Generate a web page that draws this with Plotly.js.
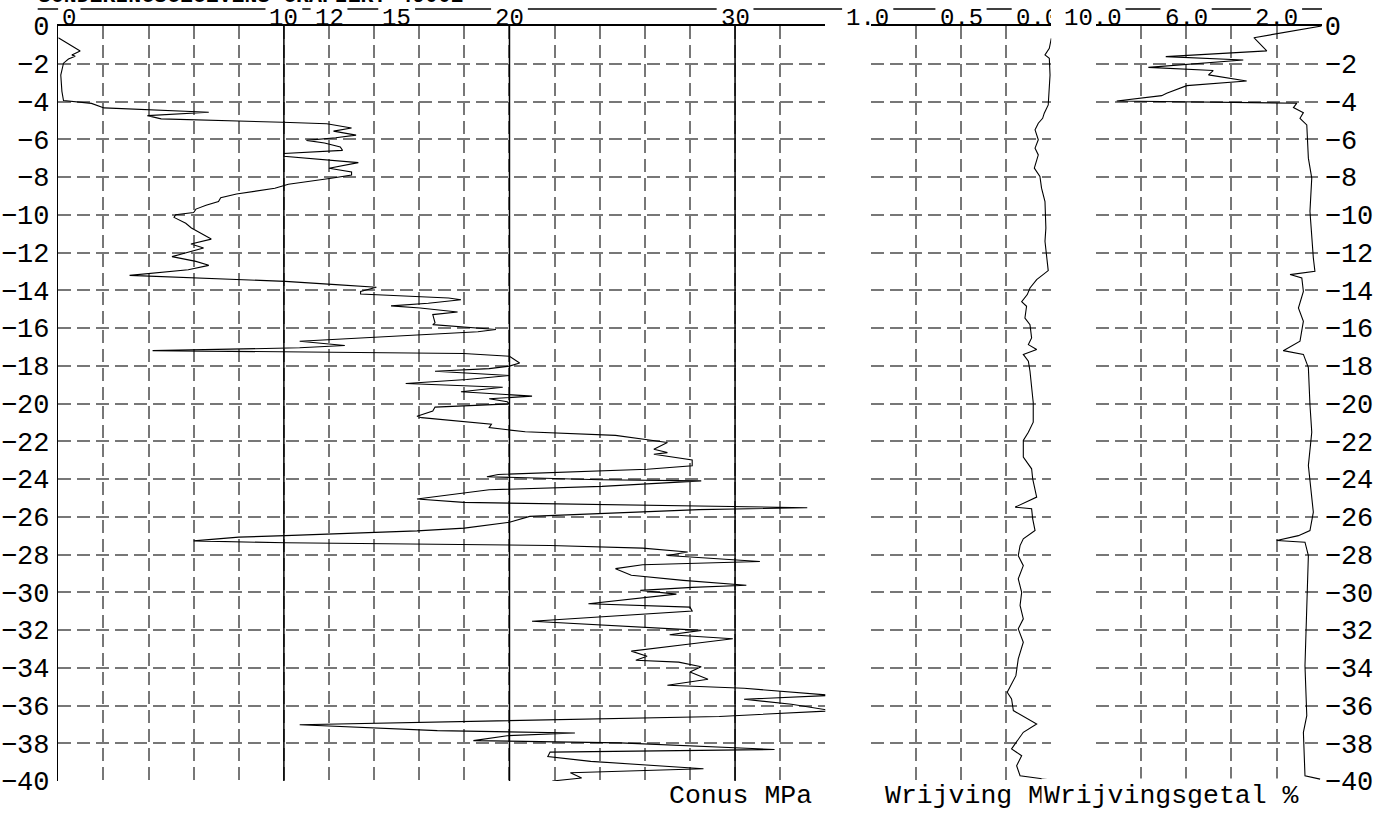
<!DOCTYPE html>
<html><head><meta charset="utf-8">
<script src="https://cdn.plot.ly/plotly-3.0.1.min.js"></script>
<style>html,body{margin:0;padding:0;background:#fff}#chart{width:1385px;height:813px}
.gridlayer path{shape-rendering:crispEdges}</style>
</head><body><div id="chart"></div>
<script>
// ---- data (level in m, negative downwards) ----
const conusLevel = [-0.62,-1.32,-1.53,-1.6,-1.75,-1.97,-2.6,-3.46,-3.95,-4.1,-4.34,-4.57,-4.75,-4.92,-5.1,-5.18,-5.4,-5.57,-5.78,-5.92,-6.06,-6.2,-6.41,-6.59,-6.75,-6.9,-7.24,-7.54,-7.73,-7.9,-8.07,-8.38,-8.6,-8.9,-9.1,-9.3,-9.5,-9.7,-9.88,-10.0,-10.14,-10.45,-10.7,-11.29,-11.55,-11.76,-12.22,-12.47,-12.68,-12.91,-13.21,-13.35,-13.53,-13.7,-13.84,-14.06,-14.2,-14.41,-14.5,-14.69,-14.83,-14.94,-15.15,-15.29,-15.73,-15.82,-15.96,-16.08,-16.2,-16.44,-16.7,-16.93,-17.05,-17.2,-17.35,-17.5,-17.85,-18.02,-18.15,-18.29,-18.52,-18.73,-18.94,-19.14,-19.38,-19.61,-19.75,-19.91,-20.02,-20.19,-20.4,-20.67,-20.75,-21.1,-21.28,-21.5,-21.69,-21.93,-22.07,-22.42,-22.6,-22.69,-22.99,-23.3,-23.48,-23.76,-23.88,-24.04,-24.1,-24.39,-24.57,-25.06,-25.24,-25.52,-25.62,-25.98,-26.29,-26.6,-26.75,-27.0,-27.08,-27.28,-27.38,-27.52,-27.66,-27.87,-28.05,-28.37,-28.54,-28.75,-29.1,-29.37,-29.63,-29.74,-29.9,-30.1,-30.61,-30.79,-31.0,-31.54,-31.77,-32.02,-32.25,-32.46,-32.74,-33.12,-33.39,-33.6,-33.7,-33.95,-34.23,-34.61,-34.93,-35.09,-35.46,-35.67,-35.93,-36.28,-36.58,-36.8,-37.02,-37.33,-37.46,-37.6,-37.86,-37.98,-38.33,-38.47,-38.7,-38.96,-39.35,-39.56,-39.84,-40.0];
const conusMPa = [0,0.97,0.6,0.75,0.45,0.23,0.11,0.16,0.23,1.47,2.03,6.67,3.95,4.56,9.94,11.9,13.0,12.2,13.2,12.3,11.0,11.8,12.5,12.6,10.0,10.0,13.3,12.0,13.0,13.0,12.1,10.2,9.6,7.9,7.2,7.1,6.55,6.1,6.0,5.2,5.13,5.65,5.9,6.78,5.88,6.44,5.04,6.1,6.67,5.76,3.16,6.0,10.06,12.3,14.1,13.4,13.4,17.3,17.85,16.4,14.75,16.04,17.7,16.6,16.7,16.6,17.96,19.4,18.6,15.0,10.7,12.7,10.7,4.18,17.96,20.0,20.45,20.0,19.1,16.7,20.0,18.1,15.4,19.7,17.85,21.0,19.1,19.9,20.0,16.7,16.6,15.9,16.1,19.2,19.1,20.7,24.7,26.2,27.0,26.4,27.0,26.4,28.1,28.1,26.1,19.5,19.0,24.0,28.5,24.1,19.1,15.9,17.97,33.2,28.4,20.9,20.0,18.0,15.9,10.06,8.0,6.0,10.06,21.8,25.9,27.9,27.0,31.1,25.9,24.7,25.4,27.7,30.5,28.1,25.8,27.4,23.5,28.0,28.1,21.0,24.5,28.5,27.1,29.9,28.0,25.4,26.1,25.6,27.5,28.5,28.0,28.8,27.0,30.4,34.3,30.4,32.5,34.3,29.3,20.0,10.7,16.8,22.9,19.9,18.4,24.9,31.75,21.8,21.7,23.6,28.6,22.7,23.2,21.9];

const wrijvingLevel = [-0.65,-1.18,-1.53,-1.71,-2.6,-3.65,-4.18,-4.62,-4.89,-5.15,-5.5,-6.03,-6.47,-6.83,-7.53,-7.97,-8.59,-9.3,-10.0,-10.7,-11.41,-12.29,-12.96,-13.44,-13.88,-14.23,-14.6,-14.85,-15.47,-15.82,-16.53,-16.88,-17.14,-17.4,-17.76,-18.29,-18.99,-19.96,-20.99,-21.52,-21.96,-22.84,-23.46,-23.99,-24.96,-25.49,-25.58,-26.11,-26.73,-27.17,-27.53,-28.06,-28.59,-29.29,-30.0,-30.7,-31.41,-31.94,-32.65,-33.53,-34.42,-35.3,-35.65,-36.27,-36.98,-37.42,-38.3,-38.66,-39.19,-39.72,-39.95];
const wrijvingMPa = [0,0.011,0.035,0.011,0.007,0.011,0.017,0.039,0.048,0.072,0.09,0.072,0.09,0.072,0.094,0.063,0.054,0.035,0.031,0.03,0.035,0.026,0.017,0.081,0.118,0.133,0.164,0.137,0.146,0.118,0.109,0.127,0.081,0.155,0.127,0.118,0.109,0.1,0.1,0.127,0.155,0.155,0.109,0.103,0.081,0.2,0.109,0.103,0.09,0.155,0.173,0.183,0.155,0.183,0.164,0.173,0.155,0.183,0.155,0.183,0.196,0.244,0.22,0.21,0.081,0.155,0.22,0.164,0.192,0.173,0.0];

const getalLevel = [0,-0.62,-1.32,-1.62,-1.8,-2.19,-2.36,-2.59,-2.91,-3.16,-3.56,-3.69,-3.97,-4.09,-4.32,-4.59,-4.89,-5.24,-7.0,-8.06,-9.82,-11.23,-12.29,-13.0,-13.17,-13.35,-14.06,-14.94,-15.64,-16.7,-17.2,-17.4,-18.1,-20.05,-21.52,-23.29,-25.76,-26.73,-27.0,-27.26,-27.35,-28.06,-30.35,-33.89,-36.54,-37.42,-39.72,-39.9];
const getalPct = [0,3.0,2.43,6.9,3.47,7.67,4.8,5.01,3.32,5.97,6.86,7.08,9.07,1.1,1.25,0.81,0.96,0.66,0.59,0.44,0.52,0.44,0.37,0.3,1.4,0.88,0.81,1.03,0.81,0.96,1.7,0.81,0.59,0.52,0.44,0.59,0.37,0.52,1.03,1.99,0.74,0.59,0.66,0.74,0.66,0.81,0.74,0.07];

const conusTickVals = [0,10,12,15,20,30];
const conusTickText = ['0','10','12','15','20','30'];
const conusSolid = [10,20,30];
const wrijvingTickVals = [1.0,0.5,0.0];
const wrijvingTickText = ['1.0','0.5','0.0'];
const getalTickVals = [10,6,2];
const getalTickText = ['10.0','6.0','2.0'];
const titleText = 'SONDERINGSGEGEVENS GRAFIEK: 49002';
const axisTitles = ['Conus MPa','Wrijving MPa','Wrijvingsgetal %'];

// ---- layout geometry ----
const W = 1385, H = 813;
const px = v => v / W, py = v => 1 - v / H;
const yDom = [py(781), py(26)];
const dom1 = [px(58.3), px(825.3)];
const dom2 = [px(870.7), px(1051.3)];
const dom3 = [px(1095.7), px(1321.7)];
const FONT = 'Liberation Mono, Courier New, monospace';
const gridCol = '#777777';
const dash = '13px,6px';
const LABEL_SIZE = 24;

function xax(dom, range, dtick, anchor) {
  return {domain: dom, range: range, side: 'top', anchor: anchor, dtick: dtick, tick0: 0,
    showticklabels: false, ticks: '', showgrid: true, gridcolor: gridCol, gridwidth: 2, griddash: dash,
    showline: true, linecolor: '#000', linewidth: 1.6, zeroline: false, automargin: false, fixedrange: true};
}
function yax(anchor, showLabels, side) {
  return {domain: yDom, range: [-40, 0], anchor: anchor, side: side, dtick: 2, tick0: 0,
    showticklabels: showLabels, ticks: '', showgrid: true, gridcolor: gridCol, gridwidth: 2, griddash: dash,
    showline: false, zeroline: false, automargin: false, fixedrange: true,
    tickfont: {family: FONT, size: 27, color: '#000'}, ticklabelstandoff: 2};
}

const line = {color: '#000', width: 1.1};
const traces = [
  {x: conusMPa, y: conusLevel, xaxis: 'x', yaxis: 'y', mode: 'lines', line: line, hoverinfo: 'skip'},
  {x: wrijvingMPa, y: wrijvingLevel, xaxis: 'x2', yaxis: 'y2', mode: 'lines', line: line, hoverinfo: 'skip'},
  {x: getalPct, y: getalLevel, xaxis: 'x3', yaxis: 'y3', mode: 'lines', line: line, hoverinfo: 'skip'}
];

const y1 = yax('x', true, 'left'); y1.showline = true; y1.linecolor = '#000'; y1.linewidth = 1.4;
const xa1 = xax(dom1, [0, 34], 2, 'y'), xa2 = xax(dom2, [1, 0], 0.25, 'y2'), xa3 = xax(dom3, [10, 0], 2, 'y3');
const layout = {
  width: W, height: H, margin: {l: 0, r: 0, t: 0, b: 0}, showlegend: false,
  paper_bgcolor: '#fff', plot_bgcolor: 'rgba(0,0,0,0)',
  xaxis: xa1, xaxis2: xa2, xaxis3: xa3,
  yaxis: y1,
  yaxis2: yax('x2', false, 'left'),
  yaxis3: yax('x3', true, 'right'),
  shapes: [], annotations: []
};

conusSolid.forEach(v => layout.shapes.push({type: 'line', xref: 'x', yref: 'y domain', x0: v, x1: v, y0: 0, y1: 1,
  line: {color: '#000', width: 1.5}, layer: 'above'}));
// overline above the scale labels
layout.shapes.push({type: 'line', xref: 'paper', yref: 'paper', x0: px(37.7), x1: px(1322), y0: py(9), y1: py(9),
  line: {color: '#000', width: 1.5}, layer: 'above'});

// scale labels on top; white masks interrupt the overline behind each label
const toPaper = (ax, v) => ax.domain[0] + (v - ax.range[0]) / (ax.range[1] - ax.range[0]) * (ax.domain[1] - ax.domain[0]);
function topLabels(ax, vals, texts, xref, shifts, clipW) {
  vals.forEach((v, i) => {
    const s = shifts[i];
    const c = toPaper(ax, v) + s / W;
    const half = (texts[i].length * 0.6 * LABEL_SIZE) / 2 + 4;
    layout.shapes.push({type: 'rect', xref: 'paper', yref: 'paper', x0: c - half / W, x1: c + half / W,
      y0: py(24), y1: py(5), fillcolor: '#fff', line: {width: 0}, layer: 'above'});
    const ann = {x: v, xref: xref, xshift: s, y: py(18.5), yref: 'paper', yanchor: 'middle',
      text: texts[i], showarrow: false, borderpad: 0, font: {family: FONT, size: LABEL_SIZE, color: '#000'}};
    if (clipW && clipW[i]) { ann.width = clipW[i]; ann.align = 'left'; ann.xshift = s - (half - 4 - clipW[i] / 2); }
    layout.annotations.push(ann);
  });
}
topLabels(xa1, conusTickVals, conusTickText, 'x', [11, 0, 0, 0, 0, 0]);
// the last label of this scale is partly hidden by the neighbouring "10.0"
topLabels(xa2, wrijvingTickVals, wrijvingTickText, 'x2', [-3, 0, -14], [0, 0, 35]);
topLabels(xa3, getalTickVals, getalTickText, 'x3', [-3, 0, 0]);

layout.annotations.push({x: px(37), xref: 'paper', xanchor: 'left', y: 1, yref: 'paper', yanchor: 'bottom', yshift: -9,
  text: titleText, showarrow: false, borderpad: 0, font: {family: FONT, size: 21.5, color: '#000', weight: 'bold'}});

const botY = {y: py(796), yref: 'paper', yanchor: 'middle', showarrow: false, xref: 'paper'};
const BOT = 26.5;
layout.annotations.push(Object.assign({x: px(813), xanchor: 'right', text: axisTitles[0], borderpad: 0,
  font: {family: FONT, size: BOT, color: '#000'}}, botY));
layout.annotations.push(Object.assign({x: px(884), xanchor: 'left', text: axisTitles[1], borderpad: 0,
  font: {family: FONT, size: BOT, color: '#000'}}, botY));
layout.annotations.push(Object.assign({x: px(1041), xanchor: 'left', text: axisTitles[2], bgcolor: '#fff', borderpad: 2,
  font: {family: FONT, size: BOT, color: '#000'}}, botY));

Plotly.newPlot('chart', traces, layout, {staticPlot: true, displayModeBar: false});
</script></body></html>
